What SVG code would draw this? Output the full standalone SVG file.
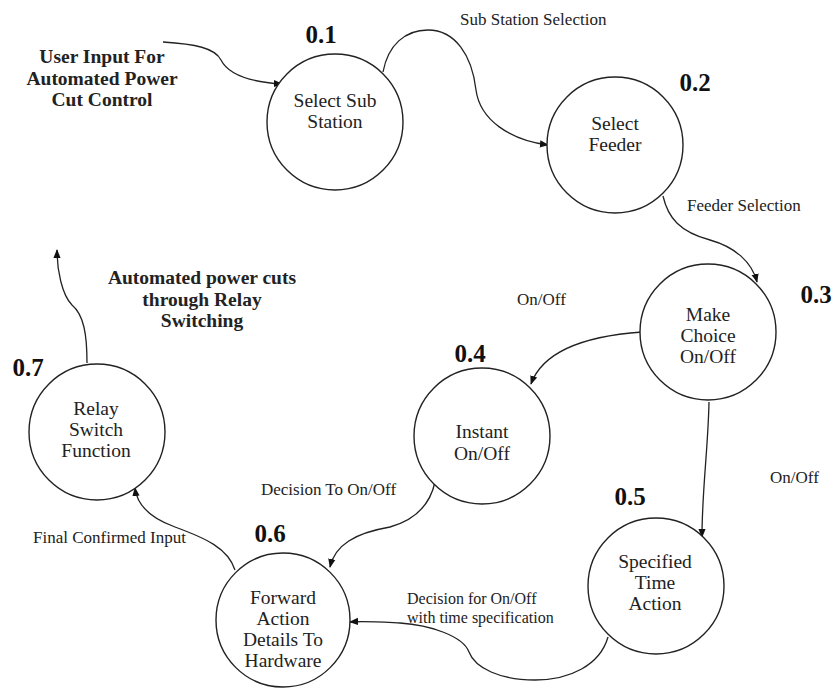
<svg xmlns="http://www.w3.org/2000/svg" width="835" height="688" viewBox="0 0 835 688">
<style>
text{font-family:'Liberation Serif','Times New Roman',Times,serif}
.c{fill:#fff;stroke:#222;stroke-width:1.4}
.n{font-size:19.5px;fill:#222;text-anchor:middle}
.num{font-size:25px;font-weight:bold;fill:#111;text-anchor:middle}
.l{font-size:17px;fill:#222}
.s{font-size:16px;fill:#222}
.b{font-size:19.5px;font-weight:bold;fill:#222;text-anchor:middle}
.e{fill:none;stroke:#222;stroke-width:1.3}
</style>
<defs>
<marker id="a" viewBox="0 0 10 10" refX="9" refY="5" markerWidth="9" markerHeight="9" markerUnits="userSpaceOnUse" orient="auto">
<path d="M0,1 L10,5 L0,9 z" fill="#111"/>
</marker>
</defs>
<rect width="835" height="688" fill="#fff"/>
<g id="connectors">
<path class="e" marker-end="url(#a)" d="M163,42 C195,44 215,48 221,60 C228,74 250,82 282,84"/>
<path class="e" marker-end="url(#a)" d="M383,72 C388,45 405,30 428,30 C455,30 472,55 476,90 C480,120 510,140 548,145"/>
<path class="e" marker-end="url(#a)" d="M663,196 C668,218 680,232 710,240 C735,247 752,262 757,282"/>
<path class="e" marker-end="url(#a)" d="M642,332 C600,335 545,345 531,384"/>
<path class="e" marker-end="url(#a)" d="M709,402 C708,450 702,490 702,537"/>
<path class="e" marker-end="url(#a)" d="M435,482 C430,505 415,520 390,527 C355,533 335,545 330,567"/>
<path class="e" marker-end="url(#a)" d="M608,637 C600,665 570,680 535,680 C500,680 475,668 469,652 C463,636 430,625 400,623 C380,622 365,621 350,622"/>
<path class="e" marker-end="url(#a)" d="M235,570 C228,548 205,538 175,527 C150,518 137,505 135,488"/>
<path class="e" marker-end="url(#a)" d="M87,363 C87,335 84,315 72,305 C62,295 57,270 57,250"/>
<text class="l" x="460" y="25">Sub Station Selection</text>
<text class="l" x="687" y="211">Feeder Selection</text>
<text class="l" x="517" y="305">On/Off</text>
<text class="l" x="770" y="483">On/Off</text>
<text class="s" x="407" y="604">Decision for On/Off</text>
<text class="s" x="407" y="623">with time specification</text>
<text class="l" x="261" y="495">Decision To On/Off</text>
<text class="l" x="33" y="543">Final Confirmed Input</text>
<text class="b" x="102" y="63">User Input For</text>
<text class="b" x="102" y="85">Automated Power</text>
<text class="b" x="102" y="106">Cut Control</text>
<text class="b" x="202" y="284">Automated power cuts</text>
<text class="b" x="202" y="306">through Relay</text>
<text class="b" x="202" y="327">Switching</text>
</g>
<g id="n01">
<circle class="c" cx="335" cy="122" r="68"/>
<text class="num" x="321" y="43">0.1</text>
<text class="n" x="335" y="107">Select Sub</text>
<text class="n" x="335" y="128">Station</text>
</g>
<g id="n02">
<circle class="c" cx="615" cy="145" r="68"/>
<text class="num" x="695" y="91">0.2</text>
<text class="n" x="615" y="130">Select</text>
<text class="n" x="615" y="151">Feeder</text>
</g>
<g id="n03">
<circle class="c" cx="708" cy="332" r="68"/>
<text class="num" x="816" y="303">0.3</text>
<text class="n" x="708" y="321">Make</text>
<text class="n" x="708" y="342">Choice</text>
<text class="n" x="708" y="363">On/Off</text>
</g>
<g id="n04">
<circle class="c" cx="482" cy="436" r="68"/>
<text class="num" x="470" y="362">0.4</text>
<text class="n" x="482" y="438">Instant</text>
<text class="n" x="482" y="460">On/Off</text>
</g>
<g id="n05">
<circle class="c" cx="656" cy="586" r="68"/>
<text class="num" x="630" y="505">0.5</text>
<text class="n" x="655" y="568">Specified</text>
<text class="n" x="655" y="589">Time</text>
<text class="n" x="655" y="610">Action</text>
</g>
<g id="n06">
<circle class="c" cx="283" cy="620" r="67"/>
<text class="num" x="270" y="542">0.6</text>
<text class="n" x="283" y="604">Forward</text>
<text class="n" x="283" y="625">Action</text>
<text class="n" x="283" y="646">Details To</text>
<text class="n" x="283" y="667">Hardware</text>
</g>
<g id="n07">
<circle class="c" cx="97" cy="432" r="68"/>
<text class="num" x="28" y="376">0.7</text>
<text class="n" x="96" y="415">Relay</text>
<text class="n" x="96" y="436">Switch</text>
<text class="n" x="96" y="457">Function</text>
</g>
</svg>
